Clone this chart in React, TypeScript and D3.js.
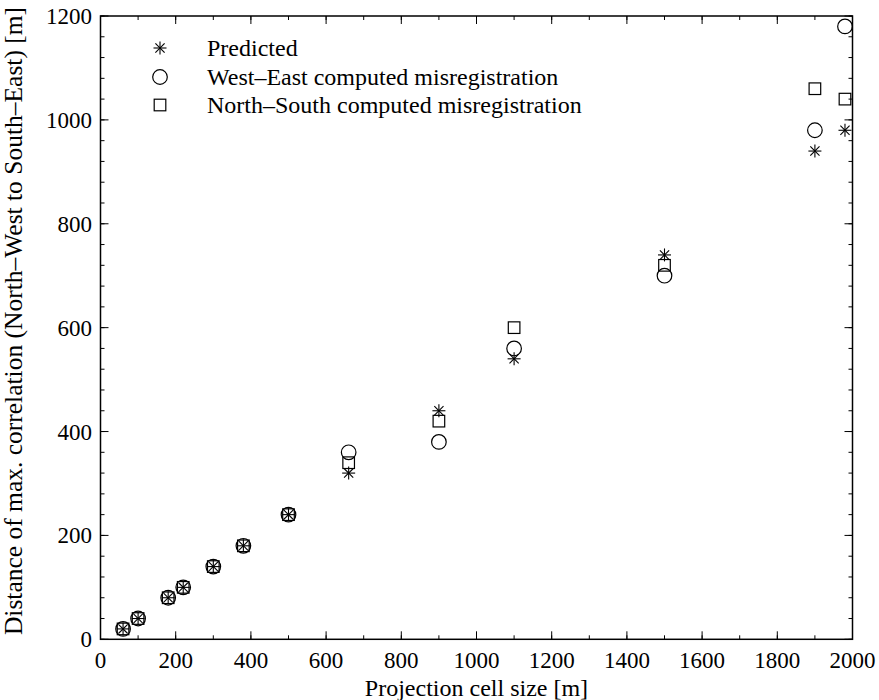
import React from "react";
import * as d3 from "d3";

const cellSize = [60, 100, 180, 220, 300, 380, 500, 660, 900, 1100, 1500, 1900, 1980];
const predicted = [20, 40, 80, 100, 140, 180, 240, 320, 440, 540, 740, 940, 980];
const westEast = [20, 40, 80, 100, 140, 180, 240, 360, 380, 560, 700, 980, 1180];
const northSouth = [20, 40, 80, 100, 140, 180, 240, 340, 420, 600, 720, 1060, 1040];
const xTicks = [0, 200, 400, 600, 800, 1000, 1200, 1400, 1600, 1800, 2000];
const yTicks = [0, 200, 400, 600, 800, 1000, 1200];
const legendLabels = [
  "Predicted",
  "West\u2013East computed misregistration",
  "North\u2013South computed misregistration",
];

const W = 879;
const H = 700;
const L = 100.5, R = 852.5, T = 16, B = 639.3;
const FONT = "Liberation Serif, Times New Roman, Times, serif";
const FS = 24;

function Star({ x, y, r = 6.5 }: { x: number; y: number; r?: number }) {
  const d = r * 0.7071;
  return (
    <g stroke="#000" strokeWidth={1.1}>
      <line x1={x - r} y1={y} x2={x + r} y2={y} />
      <line x1={x} y1={y - r} x2={x} y2={y + r} />
      <line x1={x - d} y1={y - d} x2={x + d} y2={y + d} />
      <line x1={x - d} y1={y + d} x2={x + d} y2={y - d} />
    </g>
  );
}
function Circ({ x, y }: { x: number; y: number }) {
  return <circle cx={x} cy={y} r={7.3} fill="none" stroke="#000" strokeWidth={1.2} />;
}
function Sq({ x, y }: { x: number; y: number }) {
  return <rect x={x - 5.8} y={y - 5.8} width={11.6} height={11.6} fill="none" stroke="#000" strokeWidth={1.2} />;
}

export default function App() {
  const x = d3.scaleLinear().domain([0, 2000]).range([L, R]);
  const y = d3.scaleLinear().domain([0, 1200]).range([B, T]);
  const xMinor = d3.range(0, 2001, 100);
  const yMinor = d3.range(0, 1201, 40);
  const maj = 8, min = 4;
  return (
    <svg width={W} height={H} style={{ position: "absolute", left: 0, top: 0, fontFamily: FONT }}>
      <rect x={0} y={0} width={W} height={H} fill="#fff" />
      <g stroke="#000" strokeWidth={1}>
        {xMinor.map((v) => (
          <g key={"xm" + v}>
            <line x1={x(v)} x2={x(v)} y1={B} y2={B - min} />
            <line x1={x(v)} x2={x(v)} y1={T} y2={T + min} />
          </g>
        ))}
        {yMinor.map((v) => (
          <g key={"ym" + v}>
            <line y1={y(v)} y2={y(v)} x1={L} x2={L + min} />
            <line y1={y(v)} y2={y(v)} x1={R} x2={R - min} />
          </g>
        ))}
        {xTicks.map((v) => (
          <g key={"xM" + v}>
            <line x1={x(v)} x2={x(v)} y1={B} y2={B - maj} />
            <line x1={x(v)} x2={x(v)} y1={T} y2={T + maj} />
          </g>
        ))}
        {yTicks.map((v) => (
          <g key={"yM" + v}>
            <line y1={y(v)} y2={y(v)} x1={L} x2={L + maj} />
            <line y1={y(v)} y2={y(v)} x1={R} x2={R - maj} />
          </g>
        ))}
      </g>
      <rect x={L} y={T} width={R - L} height={B - T} fill="none" stroke="#000" strokeWidth={1.5} />
      <g fontSize={23} fill="#000" style={{ fontFamily: FONT }}>
        {xTicks.map((v) => (
          <text key={"xl" + v} x={x(v)} y={668} textAnchor="middle">{v}</text>
        ))}
        {yTicks.map((v) => (
          <text key={"yl" + v} x={92} y={y(v) + 8} textAnchor="end">{v}</text>
        ))}
      </g>
      <text x={(L + R) / 2} y={696} textAnchor="middle" fontSize={FS} style={{ fontFamily: FONT }}>
        Projection cell size [m]
      </text>
      <text
        transform={`translate(22, 321) rotate(-90)`}
        textAnchor="middle"
        fontSize={25.5}
        style={{ fontFamily: FONT }}
      >
        Distance of max. correlation (North{"\u2013"}West to South{"\u2013"}East) [m]
      </text>
      {cellSize.map((c, i) => (
        <g key={"d" + i}>
          <Circ x={x(c)} y={y(westEast[i])} />
          <Sq x={x(c)} y={y(northSouth[i])} />
          <Star x={x(c)} y={y(predicted[i])} />
        </g>
      ))}
      <Star x={160} y={48} />
      <Circ x={160} y={77} />
      <Sq x={160} y={105} />
      {legendLabels.map((t, i) => (
        <text key={t} x={207} y={56 + i * 28.5} fontSize={FS} style={{ fontFamily: FONT }}>{t}</text>
      ))}
    </svg>
  );
}
